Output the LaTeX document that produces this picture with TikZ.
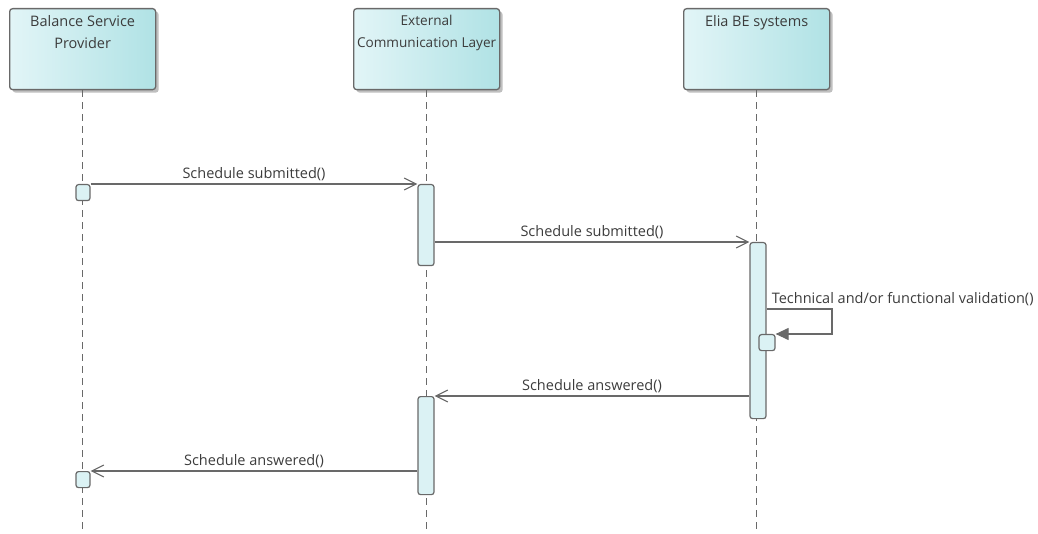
\documentclass[tikz,border=0pt]{standalone}
\usepackage{fontspec}
\setmainfont{Open Sans}
\usetikzlibrary{positioning,arrows.meta,shadows,calc}
\definecolor{umlBoxL}{RGB}{226,245,247}
\definecolor{umlBoxR}{RGB}{176,226,229}
\definecolor{umlAct}{RGB}{219,242,244}
\definecolor{umlLine}{RGB}{105,105,105}
\definecolor{umlText}{RGB}{60,60,60}

\begin{document}
\begin{tikzpicture}[x=1pt, y=-1pt,
    font=\fontsize{14.5}{17}\selectfont, text=umlText,
    lifebox/.style={draw=umlLine, line width=1.3pt, rounded corners=3pt,
      left color=umlBoxL, right color=umlBoxR,
      minimum width=146pt, minimum height=81pt, anchor=north west,
      drop shadow={shadow xshift=3pt, shadow yshift=-3pt, fill=black, opacity=0.25}},
    boxtitle/.style={align=center, anchor=north, inner sep=0pt,
      font=\fontsize{14.5}{22}\selectfont},
    lifeline/.style={draw=umlLine, line width=1pt, dash pattern=on 7pt off 5pt},
    actbar/.style={draw=umlLine, line width=1.2pt, rounded corners=2.5pt,
      fill=umlAct, minimum width=16pt, inner sep=0pt, anchor=north},
    msg/.style={draw=umlLine, line width=1.1pt,
      -{Straight Barb[length=12pt, width=12pt, line width=1.1pt]}},
    selfmsg/.style={draw=umlLine, line width=1.1pt,
      -{Triangle[length=13pt, width=12pt, fill=umlLine]}},
    msglabel/.style={above=2pt, inner sep=1pt}]

  \useasboundingbox (0,0) rectangle (1038,534);

  % lifeline heads
  \node[lifebox] (bsp) at (9,8) {};
  \node[lifebox] (ecl) at (353,8) {};
  \node[lifebox] (elia) at (683,8) {};
  \node[boxtitle] at ([yshift=-7pt]bsp.north) {Balance Service\\Provider};
  \node[boxtitle, font=\fontsize{13.6}{22}\selectfont] at ([yshift=-7pt]ecl.north) {External\\Communication Layer};
  \node[boxtitle] at ([yshift=-7pt]elia.north) {Elia BE systems};

  % dashed lifelines
  \coordinate (bspEnd) at (83,534);
  \coordinate (eclEnd) at (427,534);
  \coordinate (eliaEnd) at (758,534);
  \draw[lifeline] (bsp.south) -- (bsp.south |- bspEnd);
  \draw[lifeline] (ecl.south) -- (ecl.south |- eclEnd);
  \draw[lifeline] (elia.south) -- (elia.south |- eliaEnd);

  % activations
  \node[actbar, minimum width=14pt, minimum height=16pt] (bspA) at (83,184) {};
  \node[actbar, minimum height=81pt] (eclA) at (426,184) {};
  \node[actbar, minimum height=176pt] (eliaA) at (758,242) {};
  \node[actbar, minimum width=16pt, minimum height=16pt] (eliaB) at (767,334) {};
  \node[actbar, minimum height=98pt] (eclB) at (426,396) {};
  \node[actbar, minimum width=14pt, minimum height=16pt] (bspB) at (83,471) {};

  % messages
  \draw[msg] (bspA.north east) -- node[msglabel] {Schedule submitted()} (eclA.north west);
  \draw[msg] (eclA.east |- eliaA.north) -- node[msglabel] {Schedule submitted()} (eliaA.north west);
  \coordinate (selfTurn) at (832,309);
  \draw[selfmsg] (eliaA.east |- selfTurn) -- (selfTurn) |- (eliaB.north east);
  \node[anchor=south west, inner sep=1pt] at ([xshift=4pt, yshift=2pt]eliaA.east |- selfTurn) {Technical and/or functional validation()};
  \draw[msg] (eliaA.west |- eclB.north) -- node[msglabel] {Schedule answered()} (eclB.north east);
  \draw[msg] (eclB.west |- bspB.north) -- node[msglabel] {Schedule answered()} (bspB.north east);
\end{tikzpicture}
\end{document}
